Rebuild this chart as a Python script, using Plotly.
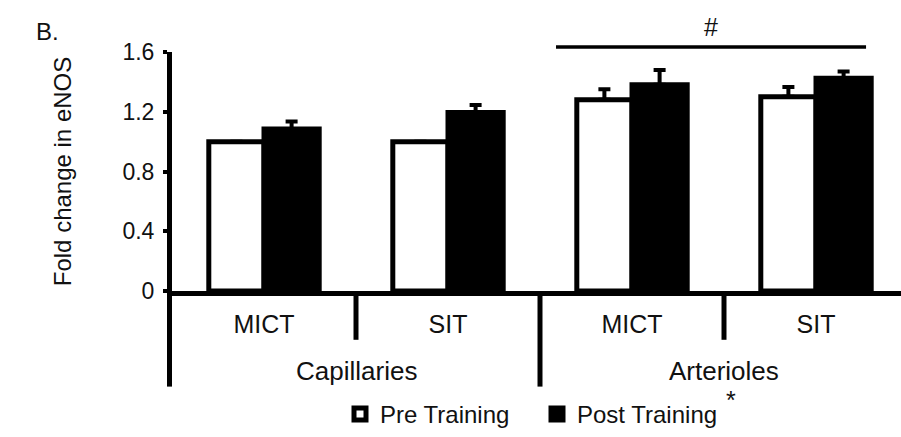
import plotly.graph_objects as go

# ---- data ----
subgroups = ["MICT", "SIT", "MICT", "SIT"]
groups = ["Capillaries", "Arterioles"]
pre_values = [1.00, 1.00, 1.28, 1.30]
pre_err = [0.0, 0.0, 0.07, 0.066]
post_values = [1.085, 1.195, 1.38, 1.425]
post_err = [0.05, 0.05, 0.10, 0.045]
y_ticks = [0, 0.4, 0.8, 1.2, 1.6]
y_ticktext = ["0", "0.4", "0.8", "1.2", "1.6"]

FONT = "Liberation Sans, Arial, sans-serif"
TXT = "#111"
W, H = 901, 437
ML, MR, MT, MB = 172, 0, 52, 145
plot_w = W - ML - MR
cat_px = 184
x_pos = list(range(len(subgroups)))
x_range = [-0.5, -0.5 + plot_w / cat_px]

fig = go.Figure()
fig.add_trace(go.Bar(
    x=x_pos, y=pre_values, name="Pre Training",
    marker=dict(color="white", line=dict(color="black", width=5)),
    error_y=dict(type="data", array=pre_err, arrayminus=[0] * 4, symmetric=False,
                 color="black", thickness=4, width=6),
))
fig.add_trace(go.Bar(
    x=x_pos, y=post_values, name="Post Training",
    marker=dict(color="black", line=dict(color="black", width=5)),
    error_y=dict(type="data", array=post_err, arrayminus=[0] * 4, symmetric=False,
                 color="black", thickness=4, width=6),
))

def py(px_y):
    # pixel y (from top) -> paper y
    return (H - MB - px_y) / (H - MT - MB)

shapes = []
# y-axis extension below the axis
shapes.append(dict(type="line", xref="paper", yref="paper", xsizemode="pixel", xanchor=0,
                   x0=-2.5, x1=-2.5, y0=0, y1=py(388), line=dict(color="black", width=5)))
# dividers: between subgroups (short) and between groups (long)
for xv, ybot in [(0.5, py(341)), (1.5, py(388)), (2.5, py(341))]:
    shapes.append(dict(type="line", xref="x", yref="paper", x0=xv, x1=xv, y0=0, y1=ybot,
                       line=dict(color="black", width=5)))
# significance line
shapes.append(dict(type="line", xref="x", yref="paper", x0=1.587, x1=3.272,
                   y0=py(47), y1=py(47), line=dict(color="black", width=3.5)))

annotations = [
    dict(text=groups[0], xref="x", yref="paper", x=0.5, y=py(372), showarrow=False,
         font=dict(size=26, color=TXT, family=FONT), xanchor="center", yanchor="middle"),
    dict(text=groups[1], xref="x", yref="paper", x=2.5, y=py(372), showarrow=False,
         font=dict(size=26, color=TXT, family=FONT), xanchor="center", yanchor="middle"),
    dict(text="#", xref="x", yref="paper", x=2.43, y=py(27), showarrow=False,
         font=dict(size=25, color=TXT, family=FONT), xanchor="center", yanchor="middle"),
    dict(text="B.", xref="paper", yref="paper", x=(47 - ML) / plot_w, y=py(31), showarrow=False,
         font=dict(size=24, color=TXT, family=FONT), xanchor="center", yanchor="middle"),
    dict(text="*", xref="paper", yref="paper", x=(731 - ML) / plot_w, y=py(401), showarrow=False,
         font=dict(size=25, color=TXT, family=FONT), xanchor="center", yanchor="middle"),
]

fig.update_layout(
    width=W, height=H,
    margin=dict(l=ML, r=MR, t=MT, b=MB, pad=0),
    paper_bgcolor="white", plot_bgcolor="white",
    barmode="group", bargap=0.4, bargroupgap=0,
    font=dict(family=FONT, size=23, color=TXT),
    showlegend=True,
    legend=dict(orientation="h", x=(340 - ML) / plot_w, y=py(416), xanchor="left", yanchor="middle",
                font=dict(size=24, color=TXT, family=FONT), entrywidth=152,
                entrywidthmode="pixels", itemwidth=30, bgcolor="rgba(0,0,0,0)"),
    shapes=shapes,
    annotations=annotations,
    xaxis=dict(range=x_range, tickvals=x_pos, ticktext=subgroups, showline=True,
               linecolor="black", linewidth=5, showgrid=False, zeroline=False,
               ticks="", tickfont=dict(size=25, color=TXT, family=FONT),
               ticklabelstandoff=7, fixedrange=True),
    yaxis=dict(range=[0, 1.6], tickvals=y_ticks, ticktext=y_ticktext, showline=True,
               linecolor="black", linewidth=5, showgrid=False, zeroline=False,
               ticks="outside", ticklen=4, tickwidth=4, tickcolor="black",
               tickfont=dict(size=23, color=TXT, family=FONT), ticklabelstandoff=4,
               title=dict(text="Fold change in eNOS", font=dict(size=24, color=TXT, family=FONT),
                          standoff=46),
               automargin=False, fixedrange=True),
)

fig.write_html("out.html", config={"displayModeBar": False},
               post_script="document.body.style.margin='0';document.body.style.overflow='hidden';")
